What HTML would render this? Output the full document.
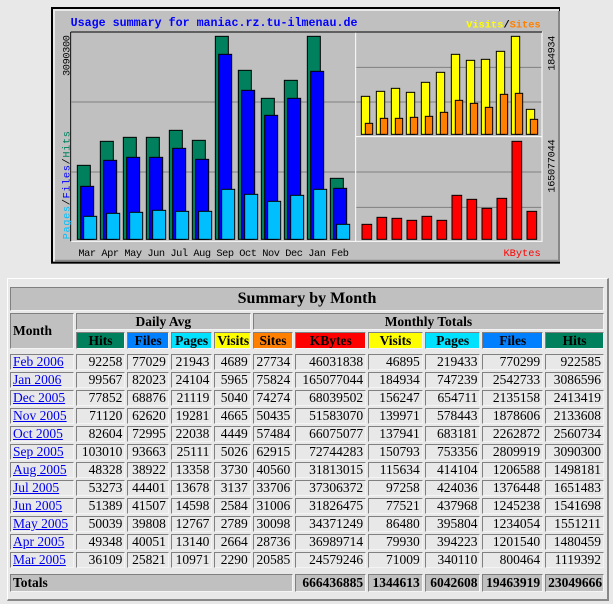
<!DOCTYPE html>
<html><head><meta charset="utf-8"><style>
body{margin:0;background:#e8e8e8;width:613px;height:604px;position:relative;overflow:hidden;font-family:"Liberation Serif",serif;}
#chart{position:absolute;left:50px;top:0;}
#frame{position:absolute;left:7px;top:278px;width:599px;height:320px;border-top:1px solid #fff;border-left:1px solid #fff;border-right:2px solid #888;border-bottom:2px solid #888;}
table{position:absolute;left:8px;top:285px;border-collapse:separate;border-spacing:2px;table-layout:fixed;width:598px;font-size:13.5px;}
td,th{padding:0 2px;border:1px solid;border-color:#808080 #f4f4f4 #f4f4f4 #808080;white-space:nowrap;overflow:hidden;}
th{background:#c0c0c0;font-weight:bold;}
td{text-align:right;height:14px;line-height:14px;}
td.m{text-align:left;}
td.m a{color:#0000ee;text-decoration:underline;}
.h{height:15px;line-height:15px;font-size:13.5px;}
tr.sp td{height:1px;border:none;padding:0;line-height:1px;}
</style></head><body>
<svg id="chart" width="510" height="265" viewBox="0 0 1530 795">
<rect x="3" y="21" width="1527" height="770" fill="#000"/>
<rect x="9" y="27" width="1518" height="758" fill="#e8e8e8"/>
<rect x="15" y="33" width="1512" height="746" fill="#c0c0c0"/>
<rect x="1524" y="33" width="6" height="752" fill="#888"/>
<rect x="15" y="779" width="1515" height="6" fill="#888"/>
<text x="62" y="78" font-family="Liberation Mono,monospace" font-weight="bold" font-size="35" fill="#0000ff">Usage summary for maniac.rz.tu-ilmenau.de</text>
<text x="1472" y="82" text-anchor="end" font-family="Liberation Mono,monospace" font-weight="bold" font-size="31"><tspan fill="#ffff00">Visits</tspan><tspan fill="#000">/</tspan><tspan fill="#ff8000">Sites</tspan></text>
<text x="1472" y="768" text-anchor="end" font-family="Liberation Mono,monospace" font-size="31" fill="#ff0000">KBytes</text>
<rect x="62" y="96" width="1414" height="628" fill="none" stroke="#fff" stroke-width="3"/>
<line x1="917" y1="96" x2="917" y2="724" stroke="#fff" stroke-width="3"/>
<line x1="917" y1="410" x2="1476" y2="410" stroke="#fff" stroke-width="3"/>
<path d="M62 96H1476M62 96V724" stroke="#000" stroke-width="3"/>
<g stroke="#808080" stroke-width="3">
<line x1="64" y1="306" x2="915" y2="306"/><line x1="64" y1="516" x2="915" y2="516"/>
<line x1="919" y1="202" x2="1474" y2="202"/><line x1="919" y1="306" x2="1474" y2="306"/>
<line x1="919" y1="516" x2="1474" y2="516"/><line x1="919" y1="622" x2="1474" y2="622"/>
</g>
<g stroke="#000" stroke-width="3">
<g fill="#00805c">
<rect x="82" y="496" width="39" height="222"/><rect x="151" y="424" width="39" height="294"/><rect x="220" y="412" width="39" height="306"/><rect x="289" y="412" width="39" height="306"/><rect x="358" y="391" width="39" height="327"/><rect x="427" y="421" width="39" height="297"/><rect x="496" y="109" width="39" height="609"/><rect x="565" y="211" width="39" height="507"/><rect x="634" y="295" width="39" height="423"/><rect x="703" y="241" width="39" height="477"/><rect x="772" y="109" width="39" height="609"/><rect x="841" y="535" width="39" height="183"/>
</g>
<g fill="#0000ff">
<rect x="92" y="559" width="39" height="159"/><rect x="161" y="481" width="39" height="237"/><rect x="230" y="472" width="39" height="246"/><rect x="299" y="472" width="39" height="246"/><rect x="368" y="445" width="39" height="273"/><rect x="437" y="478" width="39" height="240"/><rect x="506" y="163" width="39" height="555"/><rect x="575" y="271" width="39" height="447"/><rect x="644" y="346" width="39" height="372"/><rect x="713" y="295" width="39" height="423"/><rect x="782" y="214" width="39" height="504"/><rect x="851" y="565" width="39" height="153"/>
</g>
<g fill="#00bfff">
<rect x="101" y="649" width="39" height="69"/><rect x="170" y="640" width="39" height="78"/><rect x="239" y="637" width="39" height="81"/><rect x="308" y="631" width="39" height="87"/><rect x="377" y="634" width="39" height="84"/><rect x="446" y="634" width="39" height="84"/><rect x="515" y="568" width="39" height="150"/><rect x="584" y="583" width="39" height="135"/><rect x="653" y="604" width="39" height="114"/><rect x="722" y="586" width="39" height="132"/><rect x="791" y="568" width="39" height="150"/><rect x="860" y="673" width="39" height="45"/>
</g>
<g fill="#ffff00">
<rect x="934" y="289" width="25" height="114"/><rect x="979" y="274" width="25" height="129"/><rect x="1024" y="265" width="25" height="138"/><rect x="1069" y="277" width="25" height="126"/><rect x="1114" y="247" width="25" height="156"/><rect x="1159" y="217" width="25" height="186"/><rect x="1204" y="163" width="25" height="240"/><rect x="1249" y="181" width="25" height="222"/><rect x="1294" y="178" width="25" height="225"/><rect x="1339" y="154" width="25" height="249"/><rect x="1384" y="109" width="25" height="294"/><rect x="1429" y="328" width="25" height="75"/>
</g>
<g fill="#ff8000">
<rect x="946" y="370" width="22" height="33"/><rect x="991" y="355" width="22" height="48"/><rect x="1036" y="355" width="22" height="48"/><rect x="1081" y="352" width="22" height="51"/><rect x="1126" y="349" width="22" height="54"/><rect x="1171" y="337" width="22" height="66"/><rect x="1216" y="301" width="22" height="102"/><rect x="1261" y="310" width="22" height="93"/><rect x="1306" y="322" width="22" height="81"/><rect x="1351" y="283" width="22" height="120"/><rect x="1396" y="280" width="22" height="123"/><rect x="1441" y="358" width="22" height="45"/>
</g>
<g fill="#ff0000">
<rect x="936" y="673" width="29" height="45"/><rect x="981" y="652" width="29" height="66"/><rect x="1026" y="655" width="29" height="63"/><rect x="1071" y="661" width="29" height="57"/><rect x="1116" y="649" width="29" height="69"/><rect x="1161" y="661" width="29" height="57"/><rect x="1206" y="586" width="29" height="132"/><rect x="1251" y="598" width="29" height="120"/><rect x="1296" y="625" width="29" height="93"/><rect x="1341" y="595" width="29" height="123"/><rect x="1386" y="424" width="29" height="294"/><rect x="1431" y="634" width="29" height="84"/>
</g>
</g>
<g font-family="Liberation Mono,monospace" font-size="31" fill="#000">
<text x="85" y="768" textLength="812" lengthAdjust="spacing">Mar Apr May Jun Jul Aug Sep Oct Nov Dec Jan Feb</text>
<text transform="translate(58,228) rotate(-90)" textLength="123">3090300</text>
<text transform="translate(1514,212) rotate(-90)" textLength="105">184934</text>
<text transform="translate(1514,578) rotate(-90)" textLength="160">165077044</text>
<text transform="translate(58,718) rotate(-90)" textLength="325"><tspan fill="#00bfff">Pages</tspan><tspan>/</tspan><tspan fill="#0000ff">Files</tspan><tspan>/</tspan><tspan fill="#00805c">Hits</tspan></text>
</g>
</svg>
<div id="frame"></div>
<table>
<colgroup><col style="width:63px"><col style="width:49px"><col style="width:41px"><col style="width:41px"><col style="width:36px"><col style="width:40px"><col style="width:70px"><col style="width:54px"><col style="width:55px"><col style="width:60px"><col style="width:58px"></colgroup>
<tr><th colspan="11" style="height:22px;font-size:16px;">Summary by Month</th></tr>
<tr><th rowspan="2" style="text-align:left">Month</th><th colspan="4" class="h">Daily Avg</th><th colspan="6" class="h">Monthly Totals</th></tr>
<tr><th class="h" style="background:#00805c">Hits</th><th class="h" style="background:#0080ff">Files</th><th class="h" style="background:#00e0ff">Pages</th><th class="h" style="background:#ffff00">Visits</th><th class="h" style="background:#ff8000">Sites</th><th class="h" style="background:#ff0000">KBytes</th><th class="h" style="background:#ffff00">Visits</th><th class="h" style="background:#00e0ff">Pages</th><th class="h" style="background:#0080ff">Files</th><th class="h" style="background:#00805c">Hits</th></tr>
<tr class="sp"><td colspan="11"></td></tr>
<tr><td class="m"><a>Feb 2006</a></td><td>92258</td><td>77029</td><td>21943</td><td>4689</td><td>27734</td><td>46031838</td><td>46895</td><td>219433</td><td>770299</td><td>922585</td></tr>
<tr><td class="m"><a>Jan 2006</a></td><td>99567</td><td>82023</td><td>24104</td><td>5965</td><td>75824</td><td>165077044</td><td>184934</td><td>747239</td><td>2542733</td><td>3086596</td></tr>
<tr><td class="m"><a>Dec 2005</a></td><td>77852</td><td>68876</td><td>21119</td><td>5040</td><td>74274</td><td>68039502</td><td>156247</td><td>654711</td><td>2135158</td><td>2413419</td></tr>
<tr><td class="m"><a>Nov 2005</a></td><td>71120</td><td>62620</td><td>19281</td><td>4665</td><td>50435</td><td>51583070</td><td>139971</td><td>578443</td><td>1878606</td><td>2133608</td></tr>
<tr><td class="m"><a>Oct 2005</a></td><td>82604</td><td>72995</td><td>22038</td><td>4449</td><td>57484</td><td>66075077</td><td>137941</td><td>683181</td><td>2262872</td><td>2560734</td></tr>
<tr><td class="m"><a>Sep 2005</a></td><td>103010</td><td>93663</td><td>25111</td><td>5026</td><td>62915</td><td>72744283</td><td>150793</td><td>753356</td><td>2809919</td><td>3090300</td></tr>
<tr><td class="m"><a>Aug 2005</a></td><td>48328</td><td>38922</td><td>13358</td><td>3730</td><td>40560</td><td>31813015</td><td>115634</td><td>414104</td><td>1206588</td><td>1498181</td></tr>
<tr><td class="m"><a>Jul 2005</a></td><td>53273</td><td>44401</td><td>13678</td><td>3137</td><td>33706</td><td>37306372</td><td>97258</td><td>424036</td><td>1376448</td><td>1651483</td></tr>
<tr><td class="m"><a>Jun 2005</a></td><td>51389</td><td>41507</td><td>14598</td><td>2584</td><td>31006</td><td>31826475</td><td>77521</td><td>437968</td><td>1245238</td><td>1541698</td></tr>
<tr><td class="m"><a>May 2005</a></td><td>50039</td><td>39808</td><td>12767</td><td>2789</td><td>30098</td><td>34371249</td><td>86480</td><td>395804</td><td>1234054</td><td>1551211</td></tr>
<tr><td class="m"><a>Apr 2005</a></td><td>49348</td><td>40051</td><td>13140</td><td>2664</td><td>28736</td><td>36989714</td><td>79930</td><td>394223</td><td>1201540</td><td>1480459</td></tr>
<tr><td class="m"><a>Mar 2005</a></td><td>36109</td><td>25821</td><td>10971</td><td>2290</td><td>20585</td><td>24579246</td><td>71009</td><td>340110</td><td>800464</td><td>1119392</td></tr>
<tr class="sp"><td colspan="11" style="height:2px"></td></tr>
<tr><th colspan="6" style="text-align:left;height:16px;line-height:16px">Totals</th><th style="text-align:right">666436885</th><th style="text-align:right">1344613</th><th style="text-align:right">6042608</th><th style="text-align:right">19463919</th><th style="text-align:right">23049666</th></tr>
</table>
</body></html>
